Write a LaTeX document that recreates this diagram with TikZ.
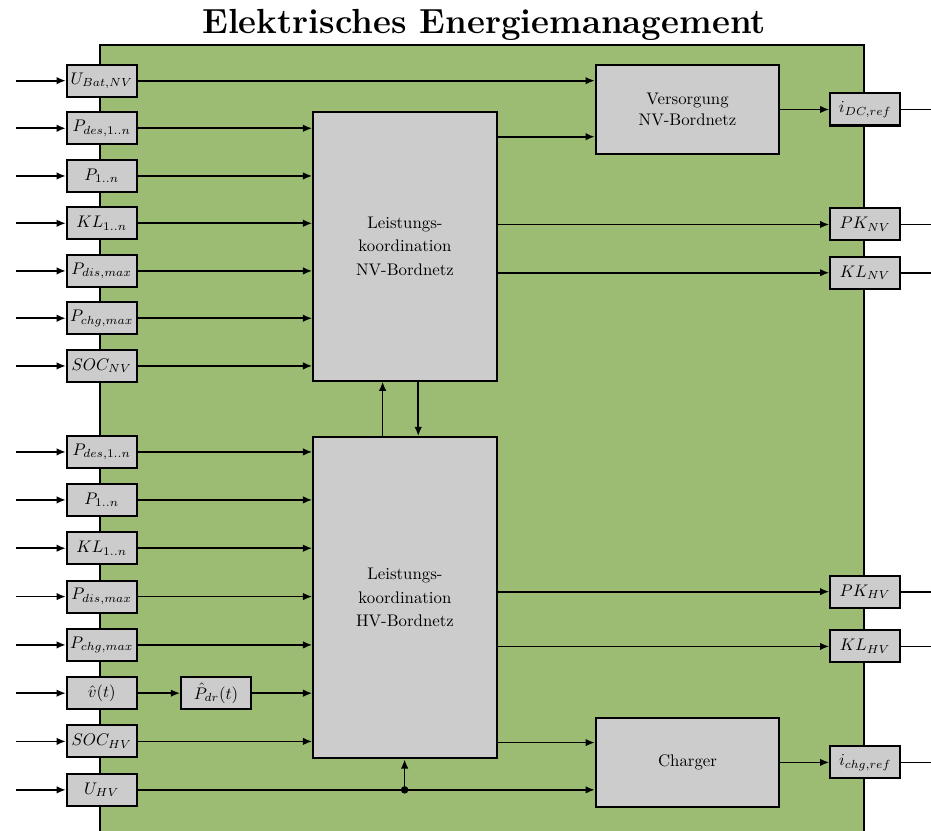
\documentclass[tikz,border=0pt]{standalone}
\usepackage{amsmath}
\usetikzlibrary{arrows.meta,positioning,calc}
\definecolor{emcol}{RGB}{156,188,115}
\definecolor{blkcol}{RGB}{204,204,204}
\tikzset{
  sig/.style={rectangle,draw,fill=blkcol,line width=1.2pt,minimum width=14.6mm,minimum height=6.7mm,inner sep=0pt},
  blk/.style={rectangle,draw,fill=blkcol,line width=1.2pt,minimum width=38.4mm,align=center,inner sep=0pt},
  ar/.style={-{Latex[length=5.5pt,width=4.5pt]},line width=1pt},
  ln/.style={-,line width=1pt}
}

\begin{document}
\begin{tikzpicture}[x=1cm,y=1cm]
\useasboundingbox (0,0) rectangle (19.48,-17.385);
\node[font=\huge\bfseries,anchor=base](title) at (10.13,-0.7){Elektrisches Energiemanagement};
% green area, open at the bottom
\fill[emcol] (2.092,-17.385) rectangle (18.075,-0.941);
\draw[line width=1pt] (2.092,-17.385) -- (2.092,-0.941) -- (18.075,-0.941) -- (18.075,-17.385);
\coordinate (lim) at (0.33,0);\coordinate (rim) at (19.48,0);
% blocks
\node[blk,minimum height=56.2mm](nvk) at (8.473,-5.154){Leistungs-\\[2pt]koordination\\[2pt]NV-Bordnetz};
\node[blk,minimum height=67.2mm](hvk) at (8.473,-12.506){Leistungs-\\[2pt]koordination\\[2pt]HV-Bordnetz};
\node[blk,minimum height=18.6mm](vers) at (14.386,-2.291){Versorgung\\NV-Bordnetz};
\node[blk,minimum height=18.5mm](chg) at (14.386,-15.952){Charger};
% inputs
\foreach \n/\y/\t in {ubat/1.688/{U_{Bat,NV}},pdesn/2.684/{P_{des,1..n}},pn/3.682/{P_{1..n}},kln/4.672/{KL_{1..n}},pdisn/5.669/{P_{dis,max}},pchgn/6.659/{P_{chg,max}},socn/7.657/{SOC_{NV}},
  pdesh/9.456/{P_{des,1..n}},ph/10.46/{P_{1..n}},klh/11.471/{KL_{1..n}},pdish/12.483/{P_{dis,max}},pchgh/13.494/{P_{chg,max}},vh/14.504/{\hat{v}(t)},soch/15.513/{SOC_{HV}},uhv/16.527/{U_{HV}}}{
  \node[sig](\n) at (2.128,-\y){$\t$};
  \draw[ar] (\n.west -| lim) -- (\n);
}
\node[sig](pdr) at (4.519,-14.504){$\hat{P}_{dr}(t)$};
% outputs
\foreach \n/\y/\t in {idc/2.291/{i_{DC,ref}},pknv/4.697/{PK_{NV}},klnv/5.707/{KL_{NV}},pkhv/12.38/{PK_{HV}},klhv/13.525/{KL_{HV}},ichg/15.952/{i_{chg,ref}}}{
  \node[sig](\n) at (18.102,-\y){$\t$};
  \draw[ln] (\n.east) -- (\n.east -| rim);
}
\foreach \a in {pdesn,pn,kln,pdisn,pchgn,socn}{\draw[ar] (\a) -- (\a -| nvk.west);}
\foreach \a in {pdesh,ph,klh,pdish,pchgh,soch}{\draw[ar] (\a) -- (\a -| hvk.west);}
\draw[ar] (vh) -- (pdr);
\draw[ar] (pdr) -- (pdr -| hvk.west);
\foreach \a in {pknv,klnv}{\draw[ar] (\a -| nvk.east) -- (\a);}
\foreach \a in {pkhv,klhv}{\draw[ar] (\a -| hvk.east) -- (\a);}
\draw[ar] (ubat) -- (ubat -| vers.west);
\coordinate (vin) at ($(vers.west)+(0,-0.57)$);
\draw[ar] (vin -| nvk.east) -- (vin);
\draw[ar] (vers) -- (idc);
\coordinate (cin) at ($(chg.west)+(0,0.414)$);
\draw[ar] (cin -| hvk.east) -- (cin);
\draw[ar] (uhv) -- (uhv -| chg.west);
\draw[ar] (chg) -- (ichg);
\node[circle,fill,inner sep=0pt,minimum size=4.5pt](jn) at (8.466,-16.527){};
\draw[ar] (jn) -- (jn |- hvk.south);
% coupling NV <-> HV
\draw[ar] ($(hvk.north)+(-0.467,0)$) -- ($(nvk.south)+(-0.467,0)$);
\draw[ar] ($(nvk.south)+(0.278,0)$) -- ($(hvk.north)+(0.278,0)$);
\end{tikzpicture}
\end{document}
